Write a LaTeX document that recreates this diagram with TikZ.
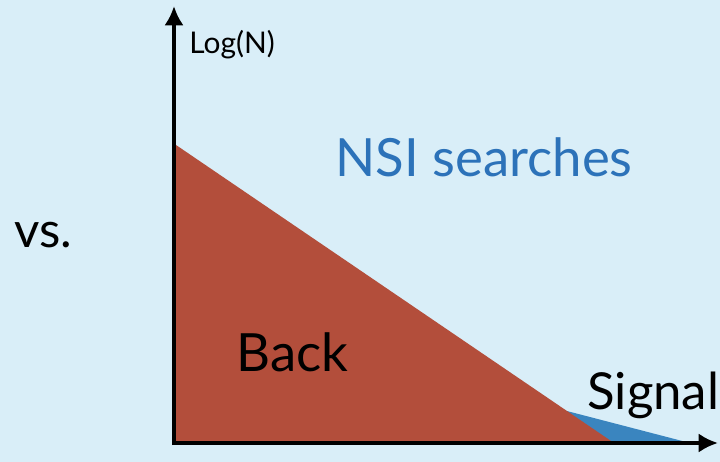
\documentclass[tikz,border=0pt]{standalone}
\usepackage{fontspec}
\setmainfont{Lato}
\usepackage{tikz}
\usetikzlibrary{arrows.meta}
\definecolor{bgblue}{HTML}{D9EEF8}
\definecolor{backred}{HTML}{B34E3B}
\definecolor{sigblue}{HTML}{3A85BF}
\definecolor{nsiblue}{HTML}{2C72B9}

\begin{document}
\begin{tikzpicture}[x=0.02cm, y=-0.02cm, every node/.style={inner sep=0pt},
  axis/.style={line width=2.8pt, -{Latex[length=11pt,width=11pt]}}]
  \fill[bgblue] (0,0) rectangle (720,462);
  \useasboundingbox (0,0) rectangle (720,462);
  % regions
  \fill[sigblue] (563,410) -- (690,443) -- (612,443) -- cycle;
  \fill[backred] (176,145) -- (614,443) -- (176,443) -- cycle;
  % axes
  \coordinate (origin) at (174,443);
  \coordinate (ytip) at (174,6);
  \coordinate (xtip) at (718,443);
  \draw[axis] (174,445) -- (ytip);
  \draw[axis] (172,443) -- (xtip);
  % labels
  \node[anchor=west, font=\fontsize{17}{17}\selectfont] (logn) at (189,45) {Log(N)};
  \node[anchor=west, text=nsiblue, font=\fontsize{30}{30}\selectfont] (nsi) at (335,157) {NSI searches};
  \node[anchor=west, font=\fontsize{28}{28}\selectfont] (vs) at (14,235) {vs.};
  \node[anchor=west, font=\fontsize{30}{30}\selectfont] (back) at (236,352) {Back};
  \node[anchor=west, font=\fontsize{29}{29}\selectfont] (signal) at (587,395) {Signal};
\end{tikzpicture}
\end{document}
